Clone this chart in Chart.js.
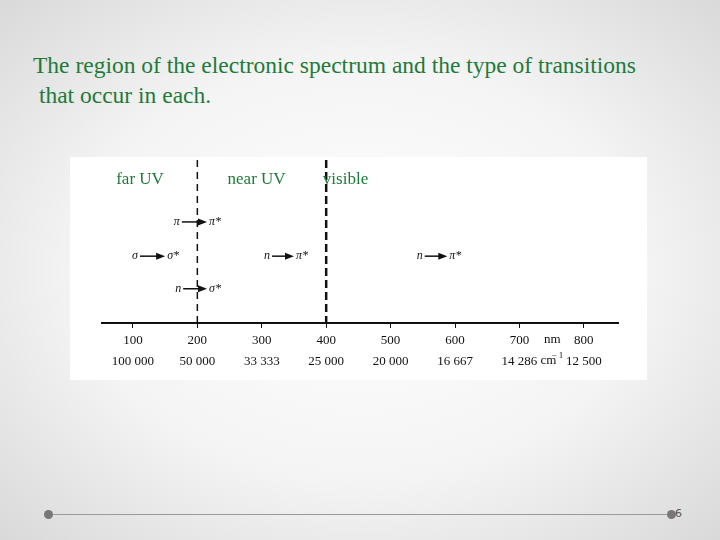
<!DOCTYPE html>
<html lang="en">
<head>
<meta charset="UTF-8" />
<title>Electronic spectrum regions</title>
<script src="https://cdn.jsdelivr.net/npm/chart.js"></script>
<style>
  * { margin: 0; padding: 0; box-sizing: border-box; }
  body {
    width: 720px; height: 540px; overflow: hidden; position: relative;
    background: radial-gradient(ellipse at center, #ffffff 0%, #f4f4f4 55%, #d9d9d9 100%);
    font-family: 'Liberation Serif', serif;
  }
  .title {
    position: absolute; left: 33px; top: 50px; font-size: 23.5px; line-height: 30px;
    color: #1f7a3a; white-space: nowrap;
  }
  .box {
    position: absolute; left: 70px; top: 157px; width: 577px; height: 223px; background: #fff;
  }
  .rule { position: absolute; left: 48px; top: 514px; width: 624px; height: 1px; background: #9a9a9a; }
  .dot { position: absolute; top: 510px; width: 9px; height: 9px; border-radius: 50%; background: #777; }
  .page { position: absolute; left: 675px; top: 507px; font: 11px 'DejaVu Sans', sans-serif; color: #555; }
</style>
</head>
<body>
  <div class="title">The region of the electronic spectrum and the type of transitions<br>&nbsp;that occur in each.</div>
  <div class="box"><canvas id="spec" width="577" height="223"></canvas></div>
  <div class="rule"></div>
  <div class="dot" style="left:44px"></div>
  <div class="dot" style="left:667px"></div>
  <div class="page">6</div>

<script>
  const nmTicks = [100, 200, 300, 400, 500, 600, 700, 800];
  const waveTicks = ['100 000', '50 000', '33 333', '25 000', '20 000', '16 667', '14 286', '12 500'];
  const boundaries = [200, 400];
  const regions = ['far UV', 'near UV', 'visible'];
  const regionX = [111, 292, 430];
  // transitions: from, to, start nm, end nm, level
  const fromSym = ['π', 'σ', 'n', 'n', 'n'];
  const toSym = ['π*', 'σ*', 'σ*', 'π*', 'π*'];
  const startNm = [176, 111, 178, 316, 553];
  const endNm = [215, 150, 215, 350, 588];
  const levels = [62, 41, 21, 41, 41];

  const drawPlugin = {
    id: 'spectrum',
    afterDraw(chart) {
      const ctx = chart.ctx, x = chart.scales.x, y = chart.scales.y;
      ctx.save();
      // boundaries
      boundaries.forEach((b, i) => {
        ctx.beginPath();
        ctx.setLineDash(i ? [8, 4] : [7, 5]);
        ctx.lineWidth = i ? 2.5 : 1.5;
        ctx.strokeStyle = '#111';
        ctx.moveTo(x.getPixelForValue(b), y.getPixelForValue(100));
        ctx.lineTo(x.getPixelForValue(b), y.getPixelForValue(0));
        ctx.stroke();
      });
      ctx.setLineDash([]);
      // region labels
      ctx.fillStyle = '#1f7a3a';
      ctx.font = '17px "Liberation Serif"';
      ctx.textAlign = 'center';
      ctx.textBaseline = 'middle';
      regions.forEach((r, i) => ctx.fillText(r, x.getPixelForValue(regionX[i]), y.getPixelForValue(88)));
      // transitions
      ctx.fillStyle = '#111';
      ctx.strokeStyle = '#111';
      ctx.lineWidth = 1.5;
      fromSym.forEach((f, i) => {
        const x0 = x.getPixelForValue(startNm[i]), x1 = x.getPixelForValue(endNm[i]);
        const yy = y.getPixelForValue(levels[i]);
        ctx.font = 'italic 12px "Liberation Serif"';
        ctx.textAlign = 'right';
        ctx.fillText(f, x0 - 2, yy);
        ctx.beginPath(); ctx.moveTo(x0, yy); ctx.lineTo(x1 - 6, yy); ctx.stroke();
        ctx.beginPath(); ctx.moveTo(x1, yy); ctx.lineTo(x1 - 9, yy - 3.5); ctx.lineTo(x1 - 9, yy + 3.5); ctx.fill();
        ctx.textAlign = 'left';
        ctx.fillText(toSym[i], x1 + 2, yy);
      });
      // units
      ctx.font = '13px "Liberation Serif"';
      ctx.textAlign = 'center';
      ctx.fillText('nm', x.getPixelForValue(751), y.bottom + 17);
      ctx.fillText('cm', x.getPixelForValue(745), y.bottom + 38);
      ctx.font = '9px "Liberation Serif"';
      ctx.fillText('− 1', x.getPixelForValue(759), y.bottom + 33);
      ctx.restore();
    }
  };

  new Chart(document.getElementById('spec'), {
    type: 'scatter',
    data: { datasets: [{ data: [], showLine: false }] },
    options: {
      responsive: false,
      animation: false,
      layout: { padding: { left: 32, right: 29, top: 3, bottom: 0 } },
      plugins: { legend: { display: false }, tooltip: { enabled: false } },
      scales: {
        x: {
          type: 'linear', min: 52, max: 853,
          afterBuildTicks: s => { s.ticks = nmTicks.map(v => ({ value: v })); },
          afterFit: s => { s.height = 57; },
          border: { color: '#111', width: 2 },
          grid: { drawOnChartArea: false, drawTicks: true, tickLength: 5, color: '#111' },
          ticks: {
            autoSkip: false, maxRotation: 0, padding: 2, color: '#111',
            font: { family: 'Liberation Serif', size: 13, lineHeight: 1.6 },
            callback: (v) => [String(v), waveTicks[nmTicks.indexOf(v)]]
          }
        },
        y: { min: 0, max: 100, display: false }
      }
    },
    plugins: [drawPlugin]
  });
</script>
</body>
</html>
